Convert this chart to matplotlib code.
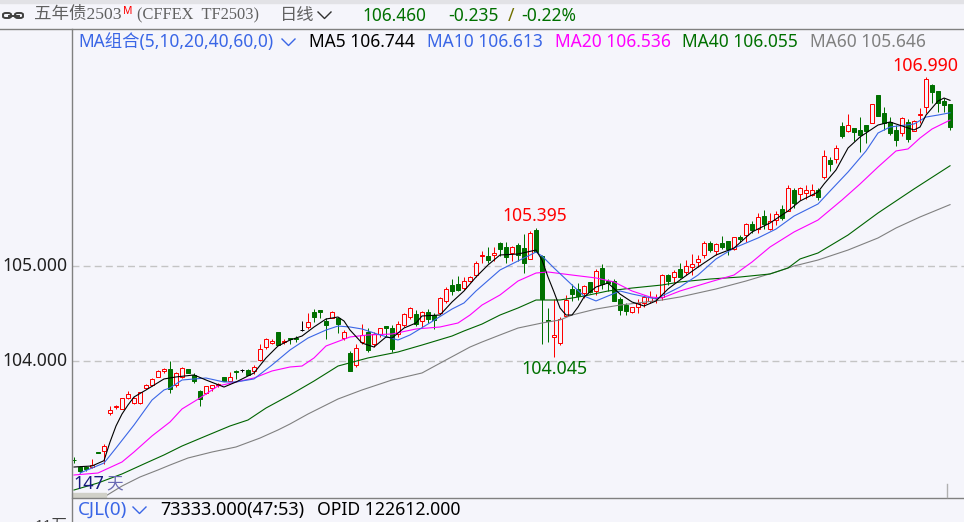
import matplotlib
matplotlib.use('Agg')
import matplotlib.pyplot as plt
from matplotlib.lines import Line2D
from matplotlib.patches import FancyBboxPatch, Rectangle

opens = [102.960, 102.887, 102.887, 102.881, 103.039, 103.056, 103.449, 103.515, 103.498, 103.611,
         103.561, 103.561, 103.716, 103.744, 103.835, 103.898, 103.913, 103.744, 103.828, 103.913,
         103.853, 103.687, 103.660, 103.716, 103.747, 103.828, 103.793, 103.898, 103.905, 103.905,
         103.898, 104.011, 104.144, 104.186, 104.305, 104.199, 104.245, 104.245, 104.326, 104.355,
         104.516, 104.534, 104.418, 104.456, 104.456, 104.245, 104.084, 103.955, 104.203, 104.305,
         104.179, 104.284, 104.365, 104.344, 104.284, 104.376, 104.466, 104.495, 104.418, 104.516,
         104.487, 104.502, 104.628, 104.800, 104.811, 104.765, 104.845, 104.902, 105.109, 105.105,
         105.113, 105.239, 105.197, 105.140, 105.218, 105.189, 105.077, 105.379, 105.105, 104.428,
         104.256, 104.193, 104.477, 104.758, 104.755, 104.719, 104.832, 104.740, 104.979, 104.839,
         104.839, 104.656, 104.593, 104.516, 104.572, 104.614, 104.635, 104.659, 104.671, 104.905,
         104.887, 104.965, 104.940, 104.993, 105.045, 105.119, 105.239, 105.161, 105.239, 105.263,
         105.176, 105.305, 105.323, 105.442, 105.393, 105.526, 105.393, 105.484, 105.597, 105.582,
         105.800, 105.755, 105.765, 105.751, 105.800, 105.940, 106.116, 106.129, 106.474, 106.418,
         106.449, 106.432, 106.481, 106.508, 106.800, 106.607, 106.519, 106.432, 106.397, 106.516,
         106.424, 106.593, 106.677, 106.905, 106.839, 106.740, 106.705]
closes = [102.955, 102.845, 102.866, 102.902, 103.029, 103.105, 103.484, 103.523, 103.607, 103.653,
          103.607, 103.671, 103.751, 103.807, 103.898, 103.919, 103.708, 103.871, 103.926, 103.877,
          103.786, 103.597, 103.737, 103.744, 103.755, 103.793, 103.835, 103.884, 103.905, 103.856,
          103.940, 104.123, 104.228, 104.211, 104.165, 104.207, 104.232, 104.232, 104.326, 104.407,
          104.463, 104.519, 104.382, 104.519, 104.393, 104.305, 103.898, 104.134, 104.271, 104.116,
          104.284, 104.344, 104.351, 104.129, 104.386, 104.495, 104.558, 104.389, 104.516, 104.439,
          104.432, 104.660, 104.755, 104.740, 104.747, 104.845, 104.881, 105.028, 105.117, 105.063,
          105.140, 105.182, 105.092, 105.197, 105.119, 105.035, 105.351, 105.151, 104.656, 104.420,
          104.274, 104.445, 104.642, 104.705, 104.684, 104.789, 104.726, 104.944, 104.811, 104.818,
          104.635, 104.537, 104.529, 104.565, 104.614, 104.671, 104.671, 104.667, 104.902, 104.845,
          104.934, 104.887, 104.997, 105.018, 105.071, 105.239, 105.168, 105.228, 105.197, 105.182,
          105.302, 105.287, 105.442, 105.379, 105.513, 105.442, 105.471, 105.547, 105.505, 105.818,
          105.666, 105.818, 105.797, 105.797, 105.729, 106.155, 106.074, 106.239, 106.368, 106.481,
          106.411, 106.382, 106.424, 106.702, 106.579, 106.508, 106.403, 106.326, 106.555, 106.340,
          106.529, 106.601, 106.965, 106.835, 106.719, 106.698, 106.460]
highs = [102.989, 102.895, 102.890, 102.968, 103.040, 103.126, 103.526, 103.540, 103.610, 103.681,
         103.624, 103.674, 103.758, 103.821, 103.905, 103.926, 103.997, 103.884, 103.937, 103.913,
         103.871, 103.695, 103.740, 103.746, 103.772, 103.828, 103.884, 103.905, 103.913, 103.919,
         103.955, 104.179, 104.242, 104.228, 104.305, 104.235, 104.245, 104.266, 104.421, 104.502,
         104.544, 104.534, 104.449, 104.526, 104.456, 104.326, 104.105, 104.179, 104.386, 104.344,
         104.305, 104.346, 104.365, 104.376, 104.421, 104.502, 104.565, 104.537, 104.529, 104.544,
         104.508, 104.677, 104.782, 104.860, 104.895, 104.881, 104.895, 105.049, 105.161, 105.203,
         105.197, 105.256, 105.253, 105.211, 105.239, 105.337, 105.372, 105.395, 105.116, 104.555,
         104.656, 104.466, 104.695, 104.811, 104.818, 104.800, 104.832, 104.965, 105.021, 104.866,
         104.863, 104.671, 104.607, 104.572, 104.649, 104.692, 104.734, 104.705, 104.916, 104.911,
         104.958, 105.028, 105.063, 105.126, 105.113, 105.260, 105.260, 105.242, 105.316, 105.268,
         105.305, 105.326, 105.456, 105.477, 105.555, 105.589, 105.555, 105.582, 105.645, 105.856,
         105.821, 105.835, 105.853, 105.863, 105.821, 106.221, 106.144, 106.271, 106.519, 106.600,
         106.453, 106.572, 106.481, 106.702, 106.800, 106.677, 106.572, 106.484, 106.572, 106.544,
         106.537, 106.660, 106.990, 106.916, 106.842, 106.765, 106.705]
lows = [102.926, 102.821, 102.842, 102.874, 103.028, 102.916, 103.435, 103.498, 103.495, 103.597,
        103.547, 103.547, 103.702, 103.737, 103.832, 103.871, 103.666, 103.729, 103.821, 103.877,
        103.772, 103.526, 103.657, 103.687, 103.729, 103.793, 103.786, 103.807, 103.884, 103.849,
        103.863, 103.997, 104.129, 104.179, 104.165, 104.179, 104.179, 104.200, 104.316, 104.340,
        104.414, 104.449, 104.228, 104.454, 104.292, 104.221, 103.895, 103.940, 104.179, 104.095,
        104.151, 104.256, 104.256, 104.095, 104.256, 104.361, 104.445, 104.368, 104.361, 104.397,
        104.334, 104.495, 104.607, 104.695, 104.734, 104.747, 104.832, 104.887, 105.028, 105.035,
        105.049, 105.105, 105.028, 105.056, 105.049, 104.929, 105.071, 105.147, 104.179, 104.203,
        104.045, 104.172, 104.474, 104.635, 104.642, 104.660, 104.716, 104.692, 104.761, 104.740,
        104.632, 104.484, 104.484, 104.508, 104.508, 104.572, 104.614, 104.614, 104.642, 104.800,
        104.818, 104.874, 104.905, 104.905, 104.993, 105.084, 105.147, 105.113, 105.176, 105.113,
        105.168, 105.253, 105.253, 105.344, 105.351, 105.393, 105.379, 105.428, 105.484, 105.576,
        105.607, 105.695, 105.702, 105.737, 105.695, 105.919, 106.003, 106.081, 106.347, 106.411,
        106.319, 106.203, 106.298, 106.508, 106.579, 106.432, 106.376, 106.263, 106.368, 106.305,
        106.421, 106.502, 106.614, 106.713, 106.624, 106.624, 106.432]

ma5_days = [0, 3, 5, 6, 7, 8, 9, 10, 12, 15, 17, 20, 22, 25, 27, 30, 32, 34, 36, 38, 40, 42, 44, 45, 46, 48,
            50, 52, 53, 55, 57, 58, 61, 63, 65, 67, 69, 71, 74, 77, 78, 79, 80, 81, 82, 83, 84, 85, 87, 89,
            91, 93, 95, 97, 99, 101, 104, 107, 110, 113, 116, 119, 121, 124, 125, 127, 129, 131, 134, 136,
            138, 140, 141, 142, 144, 145, 146]
ma5 = [102.884, 102.895, 102.951, 103.147, 103.316, 103.442, 103.537, 103.621, 103.695, 103.811, 103.832,
       103.853, 103.800, 103.726, 103.779, 103.874, 104.032, 104.158, 104.221, 104.263, 104.358, 104.442,
       104.463, 104.421, 104.326, 104.189, 104.147, 104.253, 104.242, 104.347, 104.400, 104.474, 104.484,
       104.621, 104.737, 104.884, 105.011, 105.116, 105.126, 105.168, 105.063, 104.884, 104.726, 104.558,
       104.484, 104.484, 104.568, 104.674, 104.779, 104.821, 104.705, 104.621, 104.579, 104.632, 104.758,
       104.853, 104.989, 105.116, 105.189, 105.358, 105.453, 105.579, 105.684, 105.779, 105.863, 106.011,
       106.242, 106.358, 106.484, 106.516, 106.474, 106.432, 106.463, 106.589, 106.737, 106.768, 106.744]

ma10_days = [1, 5, 7, 10, 13, 15, 16, 18, 22, 25, 27, 30, 33, 36, 39, 42, 44, 46, 48, 51, 54, 56, 59, 63, 65,
             67, 71, 74, 77, 78, 80, 83, 85, 87, 91, 93, 97, 101, 104, 107, 110, 114, 117, 120, 124, 126, 129,
             132, 134, 136, 140, 142, 144, 146]
ma10 = [102.821, 102.926, 103.084, 103.326, 103.589, 103.695, 103.716, 103.800, 103.821, 103.779, 103.779,
        103.811, 103.958, 104.116, 104.242, 104.326, 104.368, 104.358, 104.337, 104.274, 104.221, 104.274,
        104.389, 104.547, 104.611, 104.737, 104.958, 105.053, 105.147, 105.105, 104.979, 104.800, 104.684,
        104.632, 104.737, 104.705, 104.653, 104.779, 104.905, 105.074, 105.189, 105.295, 105.389, 105.526,
        105.653, 105.789, 105.989, 106.211, 106.400, 106.463, 106.495, 106.568, 106.589, 106.613]

ma20_days = [0, 4, 8, 10, 13, 16, 18, 21, 24, 27, 30, 33, 36, 38, 40, 42, 46, 49, 53, 57, 61, 64, 66, 68, 71,
             74, 77, 79, 83, 87, 90, 93, 96, 98, 101, 106, 110, 113, 116, 120, 124, 128, 131, 134, 137, 139,
             141, 143, 146]
ma20 = [102.800, 102.821, 102.937, 103.042, 103.211, 103.358, 103.495, 103.611, 103.737, 103.779, 103.821,
        103.895, 103.937, 103.947, 104.032, 104.158, 104.253, 104.274, 104.284, 104.337, 104.358, 104.400,
        104.484, 104.589, 104.695, 104.842, 104.926, 104.937, 104.905, 104.874, 104.832, 104.737, 104.674,
        104.663, 104.737, 104.832, 104.905, 105.042, 105.200, 105.358, 105.484, 105.695, 105.863, 106.042,
        106.211, 106.232, 106.347, 106.442, 106.536]

ma40_days = [0, 4, 8, 12, 15, 18, 22, 26, 29, 32, 36, 40, 44, 49, 54, 58, 63, 65, 68, 71, 74, 77, 81, 85, 89,
             93, 98, 101, 106, 111, 116, 119, 121, 124, 129, 134, 140, 146]
ma40 = [102.642, 102.716, 102.811, 102.926, 103.011, 103.105, 103.211, 103.316, 103.379, 103.505, 103.642,
        103.789, 103.947, 104.032, 104.095, 104.168, 104.263, 104.316, 104.389, 104.484, 104.558, 104.642,
        104.642, 104.684, 104.737, 104.768, 104.800, 104.832, 104.863, 104.884, 104.916, 104.979, 105.074,
        105.137, 105.326, 105.558, 105.811, 106.055]

ma60_days = [5, 8, 11, 14, 16, 19, 23, 27, 31, 34, 36, 39, 44, 48, 53, 58, 62, 66, 68, 71, 74, 78, 81, 83, 87,
             91, 94, 98, 101, 107, 112, 117, 120, 124, 129, 134, 137, 141, 146]
ma60 = [102.568, 102.684, 102.779, 102.853, 102.905, 102.979, 103.042, 103.095, 103.189, 103.274, 103.337,
        103.442, 103.600, 103.695, 103.800, 103.874, 104.011, 104.147, 104.200, 104.274, 104.347, 104.400,
        104.432, 104.484, 104.547, 104.589, 104.611, 104.642, 104.674, 104.758, 104.842, 104.937, 105.000,
        105.063, 105.168, 105.295, 105.400, 105.516, 105.646]

y_ticks = [104.0, 105.0]

BG = '#f5f5fb'
RED = '#ff0000'
GREEN = '#007000'
BLUE = '#3a66e6'
MAGENTA = '#ff00ff'
GRAY = '#808080'
SANS = ['Noto Sans', 'Noto Sans CJK SC']
SERIF = ['Liberation Serif', 'Noto Sans CJK SC']
W, H = 964, 522


def put(x, y, s, color='black', size=12.5, family=SANS, ha='left'):
    fig.text(x / W, 1 - y / H, s, color=color, fontsize=size, family=family, ha=ha, va='center')


def fig_line(xs, ys, color='#303030', lw=1.0):
    fig.add_artist(Line2D([x / W for x in xs], [1 - y / H for y in ys], color=color, lw=lw,
                          transform=fig.transFigure))


def chevron(x, y, color):
    fig_line([x, x + 6.5, x + 13], [y - 3, y + 3.5, y - 3], color=color, lw=1.0)


fig = plt.figure(figsize=(W / 100, H / 100), dpi=100, facecolor=BG)
ax = fig.add_axes([72 / W, 1 - 498 / H, (W - 72) / W, (498 - 29) / H], facecolor=BG)
ax.set_xlim(-1 / 3, 148.33)
ax.set_ylim(107.8 - 498 / 95, 107.8 - 29 / 95)
for side in ['top', 'right', 'bottom', 'left']:
    ax.spines[side].set_visible(False)
ax.set_xticks([])
ax.set_yticks([])

for v in y_ticks:
    ax.axhline(v, color='#c4c4c4', lw=1.0, dashes=(5, 3), zorder=1)

# candles, red ones stay hollow
for i in range(len(opens)):
    o, c, h, l = opens[i], closes[i], highs[i], lows[i]
    color = RED if c > o else GREEN if c < o else 'black'
    top, bottom = max(o, c), min(o, c)
    ax.vlines(i, top, h, color=color, lw=0.72, zorder=2)
    ax.vlines(i, l, bottom, color=color, lw=0.72, zorder=2)
    face = BG if c > o else color
    ax.add_patch(Rectangle((i - 1 / 3, bottom), 2 / 3, top - bottom, facecolor=face, edgecolor=color,
                           lw=0.72, zorder=3, snap=True))

ax.plot(ma60_days, ma60, color=GRAY, lw=0.8, zorder=4)
ax.plot(ma40_days, ma40, color='#006400', lw=0.8, zorder=4)
ax.plot(ma20_days, ma20, color=MAGENTA, lw=0.8, zorder=4)
ax.plot(ma10_days, ma10, color=BLUE, lw=0.8, zorder=4)
ax.plot(ma5_days, ma5, color='black', lw=0.8, zorder=5)

# frame lines
fig.add_artist(Rectangle((0, 1 - 2.5 / H), 1, 2.5 / H, color='#e2e2e6', transform=fig.transFigure))
fig_line([0, W], [29, 29], color='#808080')
fig_line([72, W], [498, 498], color='#808080')
fig_line([71.5, 71.5], [29, 522], color='#808080')
fig_line([947, 947], [484, 497], color='#b0b0b0')
fig.add_artist(Rectangle((72 / W, 1 - 497 / H), 34 / W, 4 / H, color='#d0d0c8', transform=fig.transFigure, zorder=1))

# link icon
for bx in [3, 15]:
    fig.add_artist(FancyBboxPatch((bx / W, 1 - 18 / H), 8 / W, 5 / H, boxstyle='round,pad=0,rounding_size=0.003',
                                  transform=fig.transFigure, facecolor='none', edgecolor='#404040', lw=1.4))
fig_line([9, 19], [15.5, 15.5], color='#404040', lw=1.4)

# header row
put(34, 15, '五年债2503', '#606060', 12.6, SERIF)
put(123, 12, 'M', RED, 7.5)
put(137, 15, '(CFFEX  TF2503)', '#606060', 11.8, SERIF)
put(280, 15, '日线', '#606060', 12.4)
chevron(318, 15, '#303030')
put(362, 16, '106.460', GREEN, 12.4)
put(448, 16, '-0.235', GREEN, 12.6)
put(508, 16, '/', '#707000', 12.6)
put(521, 16, '-0.22%', GREEN, 12.6)

# indicator row
put(78, 42, 'MA组合(5,10,20,40,60,0)', BLUE)
chevron(282, 42, BLUE)
put(309, 42, 'MA5 106.744', 'black')
put(427, 42, 'MA10 106.613', BLUE)
put(555, 42, 'MA20 106.536', MAGENTA)
put(682, 42, 'MA40 106.055', GREEN)
put(810, 42, 'MA60 105.646', GRAY)

# price labels
put(2, 266, '105.000', '#202020', 12.6)
put(2, 361, '104.000', '#202020', 12.6)
put(892, 66, '106.990', RED, 12.8)
put(502, 216, '105.395', RED, 12.6)
put(521, 369, '104.045', GREEN, 12.8)

put(73, 484, '147', '#1a1a80', 13.0)
put(106, 484, '天', '#6a6ab4', 12.0)

# bottom row
put(78, 510, 'CJL(0)', BLUE, 13.6)
chevron(133, 510, BLUE)
put(160, 510, '73333.000(47:53)', 'black', 13)
put(317, 510, 'OPID 122612.000', 'black', 12.7)
put(35, 526, '11万', '#404040', 11)

fig.savefig('out.png', dpi=100, facecolor=BG)
